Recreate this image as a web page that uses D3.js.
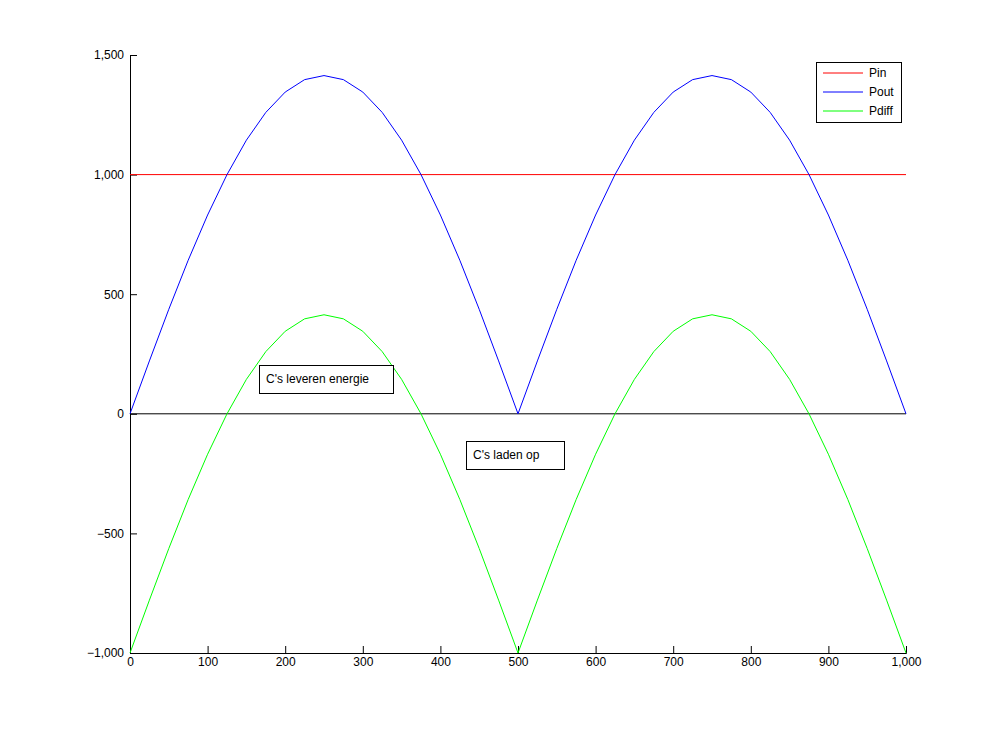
<!DOCTYPE html>
<html><head><meta charset="utf-8">
<script src="https://cdn.jsdelivr.net/npm/d3@7"></script>
<style>body{margin:0;background:#fff}text{font-family:"Liberation Sans",Arial,sans-serif}</style>
</head><body><svg id="c" width="1001" height="735"></svg>
<script>
var xs = [0,25,50,75,100,125,150,175,200,225,250,275,300,325,350,375,400,425,450,475,500,
  525,550,575,600,625,650,675,700,725,750,775,800,825,850,875,900,925,950,975,1000];
var pout = [0,221,437,642,831,1000,1144,1260,1345,1397,1414,1397,1345,1260,1144,1000,831,642,437,221,0,
  221,437,642,831,1000,1144,1260,1345,1397,1414,1397,1345,1260,1144,1000,831,642,437,221,0];
var pdiff = [-1000,-779,-563,-358,-169,0,144,260,345,397,414,397,345,260,144,0,-169,-358,-563,-779,-1000,
  -779,-563,-358,-169,0,144,260,345,397,414,397,345,260,144,0,-169,-358,-563,-779,-1000];
var pinX = [0,1000], pinY = [1000,1000];
var xTicks = [0,100,200,300,400,500,600,700,800,900,1000];
var yTicks = [-1000,-500,0,500,1000,1500];
var legendNames = ["Pin","Pout","Pdiff"], legendColors = ["#ff0000","#0000ff","#00ff00"];

var svg = d3.select("#c");
var x = d3.scaleLinear().domain([0,1000]).range([130,906]);
var y = d3.scaleLinear().domain([-1000,1500]).range([653,55]);

svg.append("g").attr("transform","translate(0,653)")
  .call(d3.axisBottom(x).tickValues(xTicks).tickSize(-7).tickPadding(4))
  .call(function(g){g.selectAll("text").attr("font-size",12).attr("fill","#000");g.selectAll("line,path").attr("stroke","#000");});
svg.append("g").attr("transform","translate(130,0)")
  .call(d3.axisLeft(y).tickValues(yTicks).tickSize(-7).tickPadding(6))
  .call(function(g){g.selectAll("text").attr("font-size",12).attr("fill","#000");g.selectAll("line,path").attr("stroke","#000");});

// zero line
svg.append("line").attr("x1",x(0)).attr("x2",x(1000)).attr("y1",y(0)).attr("y2",y(0)).attr("stroke","#000");

function draw(xv, yv, col){
  var line = d3.line().x(function(d,i){return x(xv[i]);}).y(function(d){return y(d);});
  svg.append("path").datum(yv).attr("d",line).attr("fill","none").attr("stroke",col).attr("stroke-width",1);
}
draw(pinX, pinY, legendColors[0]);
draw(xs, pout, legendColors[1]);
draw(xs, pdiff, legendColors[2]);

// legend
var lg = svg.append("g").attr("transform","translate(816,62)");
lg.append("rect").attr("x",0.5).attr("y",0.5).attr("width",85).attr("height",60).attr("fill","#fff").attr("stroke","#000");
legendNames.forEach(function(n,i){
  var yy = 11 + i*19;
  lg.append("line").attr("x1",7).attr("x2",47).attr("y1",yy).attr("y2",yy).attr("stroke",legendColors[i]);
  lg.append("text").attr("x",53).attr("y",yy+4).attr("font-size",12).text(n);
});

// annotations
function note(x0,y0,w,h,t){
  svg.append("rect").attr("x",x0+0.5).attr("y",y0+0.5).attr("width",w).attr("height",h).attr("fill","#fff").attr("stroke","#000");
  svg.append("text").attr("x",x0+7).attr("y",y0+18).attr("font-size",12).text(t);
}
note(259,365,134,28,"C's leveren energie");
note(466,441,98,28,"C's laden op");
</script></body></html>
